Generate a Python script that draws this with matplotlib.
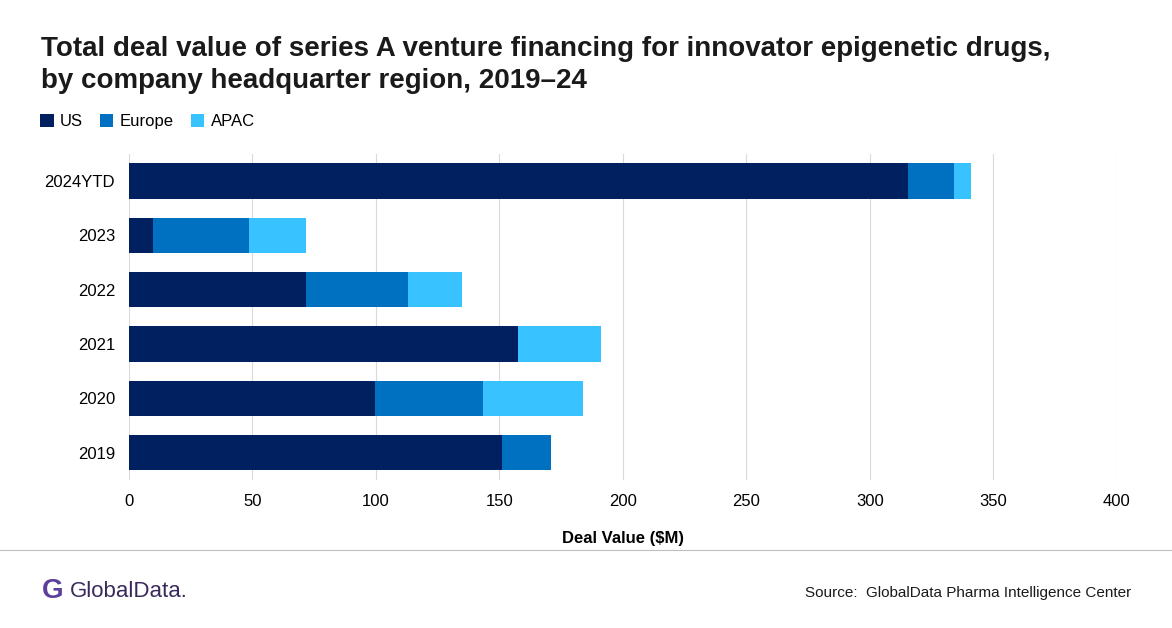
from matplotlib import pyplot as plt
import numpy as np

years = ['2019', '2020', '2021', '2022', '2023', '2024YTD']
us = [151, 99.6, 157.5, 71.7, 9.7, 315.4]
europe = [20, 43.7, 0, 41.3, 38.9, 18.6]
apac = [0, 40.5, 33.5, 22, 23.1, 7]

plt.rcParams['font.family'] = ['Liberation Sans', 'DejaVu Sans']
plt.figure(figsize=(11.72, 6.28), dpi=100)
ax = plt.axes([0.11, 0.236, 0.843, 0.519])
y = np.arange(len(years))
left2 = np.add(us, europe)
plt.barh(y, us, height=0.65, color='#002060', label='US')
plt.barh(y, europe, left=us, height=0.65, color='#0070C0', label='Europe')
plt.barh(y, apac, left=left2, height=0.65, color='#38C2FF', label='APAC')
plt.yticks(y, years, fontsize=12)
plt.xticks(np.arange(0, 401, 50), fontsize=12)
plt.xlim(0, 400)
plt.ylim(-0.5, 5.5)
plt.grid(axis='x', color='#d9d9d9', lw=0.8)
ax.set_axisbelow(True)
for s in ax.spines.values():
    s.set_visible(False)
plt.tick_params(length=0, pad=10)
plt.xlabel('Deal Value ($M)', fontsize=12, fontweight='bold', labelpad=16)
plt.legend(loc='lower left', bbox_to_anchor=(-0.105, 1.03), ncol=3, frameon=False,
           fontsize=12, handlelength=0.8, handleheight=0.8, handletextpad=0.4, columnspacing=1.0)

plt.figtext(0.035, 0.86, 'Total deal value of series A venture financing for innovator epigenetic drugs,\nby company headquarter region, 2019–24',
            fontsize=20, fontweight='bold', color='#1a1a1a', linespacing=1.3)
line = plt.Line2D([0, 1], [0.125, 0.125], transform=plt.gcf().transFigure, color='#bfbfbf', lw=0.8)
plt.gcf().add_artist(line)
plt.figtext(0.06, 0.05, 'GlobalData.', fontsize=16, color='#3a2a5c')
plt.figtext(0.036, 0.048, 'G', fontsize=20, color='#5b3f9b', fontweight='bold')
plt.figtext(0.965, 0.05, 'Source:  GlobalData Pharma Intelligence Center', fontsize=11, ha='right', color='#1a1a1a')
plt.savefig('out.png', dpi=100)
